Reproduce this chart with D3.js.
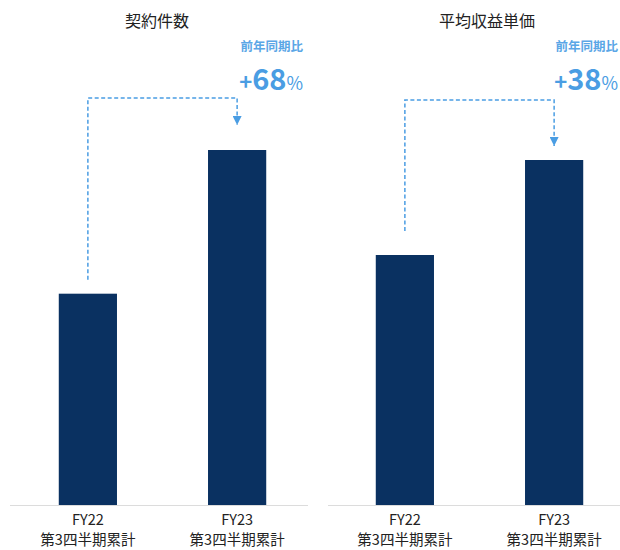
<!DOCTYPE html>
<html>
<head>
<meta charset="utf-8">
<script src="https://cdn.jsdelivr.net/npm/d3@7"></script>
<style>
  html, body { margin: 0; padding: 0; background: #fff; }
  svg { display: block; font-family: "Noto Sans CJK JP", "Noto Sans", sans-serif; }
</style>
</head>
<body>
<div id="chart"></div>
<script>
// data
const periods = ["FY22", "FY23"];
const periodSub = ["第3四半期累計", "第3四半期累計"];
const panelTitles = ["契約件数", "平均収益単価"];
const contractIndex = [100, 168];
const unitPriceIndex = [100, 138];
const yoyNumbers = ["68", "38"];
const yoyCaption = "前年同期比";

const W = 620, H = 550;
const baseY = 505;
const barColor = "#0a3161";
const accent = "#4a9de3";

const svg = d3.select("#chart").append("svg")
  .attr("width", W)
  .attr("height", H);

// arrow head
svg.append("defs").append("marker")
  .attr("id", "arrow")
  .attr("viewBox", "0 0 10 10")
  .attr("refX", 10).attr("refY", 5)
  .attr("markerWidth", 9).attr("markerHeight", 9)
  .attr("markerUnits", "userSpaceOnUse")
  .attr("orient", "auto")
  .append("path")
    .attr("d", "M0,0 L10,5 L0,10 Z")
    .attr("fill", accent);

// layout per panel
const panels = [
  { title: panelTitles[0], values: contractIndex, yoy: yoyNumbers[0],
    lineX: [10, 308], band: [14, 311], top: 150, titleX: 157,
    labelRight: 303, linkY: 98, startGap: 14, endGap: 25 },
  { title: panelTitles[1], values: unitPriceIndex, yoy: yoyNumbers[1],
    lineX: [328, 620], band: [331, 628], top: 160, titleX: 487,
    labelRight: 618, linkY: 100, startGap: 24, endGap: 14 }
];

panels.forEach(p => {
  const g = svg.append("g");

  const x = d3.scaleBand()
    .domain(periods)
    .range(p.band)
    .paddingInner(0.61)
    .paddingOuter(0.3);

  const y = d3.scaleLinear()
    .domain([0, d3.max(p.values)])
    .range([baseY, p.top]);

  // title
  g.append("text")
    .attr("x", p.titleX)
    .attr("y", 27)
    .attr("text-anchor", "middle")
    .attr("font-size", 16)
    .attr("fill", "#222")
    .text(p.title);

  // baseline
  g.append("line")
    .attr("x1", p.lineX[0]).attr("x2", p.lineX[1])
    .attr("y1", baseY + 0.5).attr("y2", baseY + 0.5)
    .attr("stroke", "#dcdcdc")
    .attr("stroke-width", 1);

  // bars
  g.selectAll("rect.bar")
    .data(p.values)
    .enter()
    .append("rect")
      .attr("class", "bar")
      .attr("x", (d, i) => x(periods[i]))
      .attr("y", d => y(d))
      .attr("width", x.bandwidth())
      .attr("height", d => baseY - y(d))
      .attr("fill", barColor);

  // category labels (two text lines)
  g.selectAll("text.cat")
    .data(periods)
    .enter()
    .append("text")
      .attr("class", "cat")
      .attr("x", d => x(d) + x.bandwidth() / 2)
      .attr("y", 525)
      .attr("text-anchor", "middle")
      .attr("font-size", 14.5)
      .attr("fill", "#222")
      .text(d => d);
  g.selectAll("text.sub")
    .data(periodSub)
    .enter()
    .append("text")
      .attr("class", "sub")
      .attr("x", (d, i) => x(periods[i]) + x.bandwidth() / 2)
      .attr("y", 545)
      .attr("text-anchor", "middle")
      .attr("font-size", 14.5)
      .attr("fill", "#222")
      .text(d => d);

  // dashed connector
  const cx0 = x(periods[0]) + x.bandwidth() / 2;
  const cx1 = x(periods[1]) + x.bandwidth() / 2;
  const path = d3.path();
  path.moveTo(cx0, y(p.values[0]) - p.startGap);
  path.lineTo(cx0, p.linkY);
  path.lineTo(cx1, p.linkY);
  path.lineTo(cx1, y(p.values[1]) - p.endGap);
  g.append("path")
    .attr("d", path.toString())
    .attr("fill", "none")
    .attr("stroke", accent)
    .attr("stroke-width", 1.5)
    .attr("stroke-dasharray", "4,2.5")
    .attr("marker-end", "url(#arrow)");

  // yoy caption
  g.append("text")
    .attr("x", p.labelRight)
    .attr("y", 51)
    .attr("text-anchor", "end")
    .attr("font-size", 12.5)
    .attr("font-weight", "bold")
    .attr("fill", "#5aa6e6")
    .text(yoyCaption);

  const big = g.append("text")
    .attr("x", p.labelRight)
    .attr("y", 90)
    .attr("text-anchor", "end")
    .attr("font-weight", "bold")
    .attr("fill", accent);
  big.append("tspan").attr("font-size", 22).text("+");
  big.append("tspan").attr("font-size", 29).text(p.yoy);
  big.append("tspan").attr("font-size", 18).attr("font-weight", "normal").text("%");
});
</script>
</body>
</html>
